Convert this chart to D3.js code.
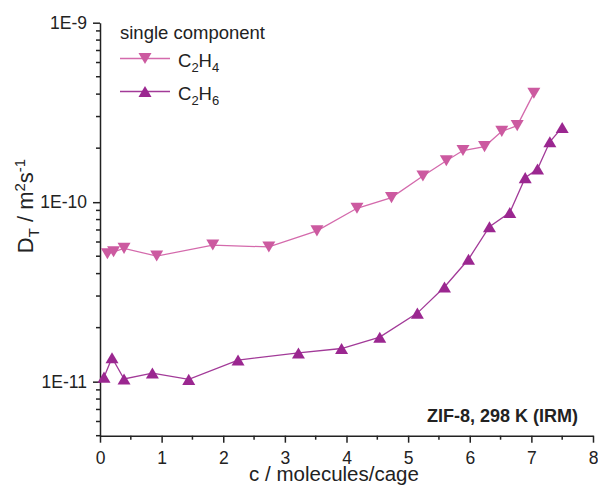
<!DOCTYPE html>
<html>
<head>
<meta charset="utf-8">
<script src="https://cdn.jsdelivr.net/npm/d3@7"></script>
<style>
  body { margin: 0; background: #fff; }
  svg { font-family: "Liberation Sans", Arial, sans-serif; }
  .axis path, .axis line { stroke: #222; stroke-width: 1.5; }
  .axis text { font-size: 17.5px; fill: #222; font-family: "Liberation Sans", Arial, sans-serif; }
</style>
</head>
<body>
<svg width="598" height="494"></svg>
<script>
// C2H4 (down triangles)
var c2h4X = [0.12, 0.22, 0.39, 0.92, 1.83, 2.74, 3.52, 4.17, 4.73, 5.24, 5.62, 5.89, 6.24, 6.52, 6.77, 7.04];
var c2h4Y = [5.16e-11, 5.29e-11, 5.53e-11, 5.01e-11, 5.77e-11, 5.63e-11, 6.92e-11, 9.25e-11, 1.06e-10,
             1.40e-10, 1.70e-10, 1.94e-10, 2.04e-10, 2.48e-10, 2.67e-10, 4.05e-10];
// C2H6 (up triangles)
var c2h6X = [0.065, 0.195, 0.39, 0.85, 1.44, 2.24, 3.22, 3.92, 4.54, 5.15, 5.59, 5.98, 6.32, 6.65, 6.90, 7.10, 7.30, 7.50];
var c2h6Y = [1.06e-11, 1.36e-11, 1.035e-11, 1.117e-11, 1.03e-11, 1.32e-11, 1.445e-11, 1.53e-11, 1.77e-11,
             2.41e-11, 3.37e-11, 4.81e-11, 7.3e-11, 8.75e-11, 1.37e-10, 1.53e-10, 2.17e-10, 2.61e-10];
var xTicks = [0, 1, 2, 3, 4, 5, 6, 7, 8];
var yMajor = [1e-11, 1e-10, 1e-9];
var yLabels = ["1E-11", "1E-10", "1E-9"];

(function(){
var svg = d3.select("svg");
var mLeft = 100, mRight = 593, mTop = 22.7, mBottom = 435.7;

var x = d3.scaleLinear().domain([0, 8]).range([mLeft, mRight]);
var y = d3.scaleLog().domain([5e-12, 1e-9]).range([mBottom, mTop]);

// minor ticks
var yMinor = [];
[1e-12, 1e-11, 1e-10].forEach(function(dec){
  for (var k = 2; k <= 9; k++) {
    var v = dec * k;
    if (v >= 5e-12 && v <= 1e-9) yMinor.push(v);
  }
});
var xMinor = d3.range(0.5, 8, 1);

// x axis
var gx = svg.append("g").attr("class", "axis")
  .attr("transform", "translate(0," + mBottom + ")");
gx.call(d3.axisBottom(x).tickValues(xTicks).tickSize(7).tickSizeOuter(0).tickPadding(9).tickFormat(d3.format("d")));
gx.selectAll(".minor").data(xMinor).enter().append("line")
  .attr("x1", d => x(d)).attr("x2", d => x(d)).attr("y1", 0).attr("y2", 4)
  .attr("stroke", "#222").attr("stroke-width", 1.5);

// y axis
var gy = svg.append("g").attr("class", "axis")
  .attr("transform", "translate(" + mLeft + ",0)");
gy.call(d3.axisLeft(y).tickValues(yMajor).tickSize(7).tickSizeOuter(0).tickPadding(6)
  .tickFormat(function(d, i){ return yLabels[i]; }));
gy.selectAll(".minor").data(yMinor).enter().append("line")
  .attr("x1", -4).attr("x2", 0).attr("y1", d => y(d)).attr("y2", d => y(d))
  .attr("stroke", "#222").attr("stroke-width", 1.5);

// axis titles
svg.append("text").attr("x", 334).attr("y", 481).attr("text-anchor", "middle")
  .style("font-size", "20.5px").attr("fill", "#222").text("c / molecules/cage");

var yt = svg.append("text").attr("transform", "translate(33,206) rotate(-90)")
  .attr("text-anchor", "middle").style("font-size", "22px").attr("fill", "#222");
yt.append("tspan").text("D");
yt.append("tspan").attr("dy", 6).style("font-size", "15px").text("T");
yt.append("tspan").attr("dy", -6).text(" / m");
yt.append("tspan").attr("dy", -8).style("font-size", "15px").text("2");
yt.append("tspan").attr("dy", 8).text("s");
yt.append("tspan").attr("dy", -8).style("font-size", "15px").text("-1");

// series
var series = [
  {name: "C2H4", xs: c2h4X, ys: c2h4Y, color: "#cc5aa0", line: "#d46aac", down: true},
  {name: "C2H6", xs: c2h6X, ys: c2h6Y, color: "#9b2790", line: "#a23a98", down: false}
];

function tri(down, s) {
  var h = s * 0.85;
  return down
    ? "M" + (-s/2) + "," + (-h/2) + "L" + (s/2) + "," + (-h/2) + "L0," + (h/2) + "Z"
    : "M" + (-s/2) + "," + (h/2) + "L" + (s/2) + "," + (h/2) + "L0," + (-h/2) + "Z";
}

var line = d3.line().x(d => x(d[0])).y(d => y(d[1]));

series.forEach(function(s){
  var pts = s.xs.map(function(v, i){ return [v, s.ys[i]]; });
  svg.append("path").datum(pts).attr("d", line)
    .attr("fill", "none").attr("stroke", s.line).attr("stroke-width", 1.3);
  svg.selectAll(".m" + s.name).data(pts).enter().append("path")
    .attr("transform", d => "translate(" + x(d[0]) + "," + y(d[1]) + ")")
    .attr("d", tri(s.down, 13)).attr("fill", s.color);
});

// legend
svg.append("text").attr("x", 120).attr("y", 38.5).style("font-size", "18.5px")
  .attr("fill", "#222").text("single component");
var leg = [{s: series[0], y: 58.5, sub1: "2", sub2: "4"}, {s: series[1], y: 91.5, sub1: "2", sub2: "6"}];
leg.forEach(function(l){
  svg.append("line").attr("x1", 120).attr("x2", 170).attr("y1", l.y).attr("y2", l.y)
    .attr("stroke", l.s.line).attr("stroke-width", 1.3);
  svg.append("path").attr("transform", "translate(145," + l.y + ")")
    .attr("d", tri(l.s.down, 13)).attr("fill", l.s.color);
  var t = svg.append("text").attr("x", 178).attr("y", l.y + 8).style("font-size", "18.5px").attr("fill", "#222");
  t.append("tspan").text("C");
  t.append("tspan").attr("dy", 5).style("font-size", "13px").text(l.sub1);
  t.append("tspan").attr("dy", -5).text("H");
  t.append("tspan").attr("dy", 5).style("font-size", "13px").text(l.sub2);
});

// annotation
svg.append("text").attr("x", 578).attr("y", 421.5).attr("text-anchor", "end")
  .style("font-size", "18px").style("font-weight", "bold").attr("fill", "#222")
  .text("ZIF-8, 298 K (IRM)");
})();
</script>
</body>
</html>
